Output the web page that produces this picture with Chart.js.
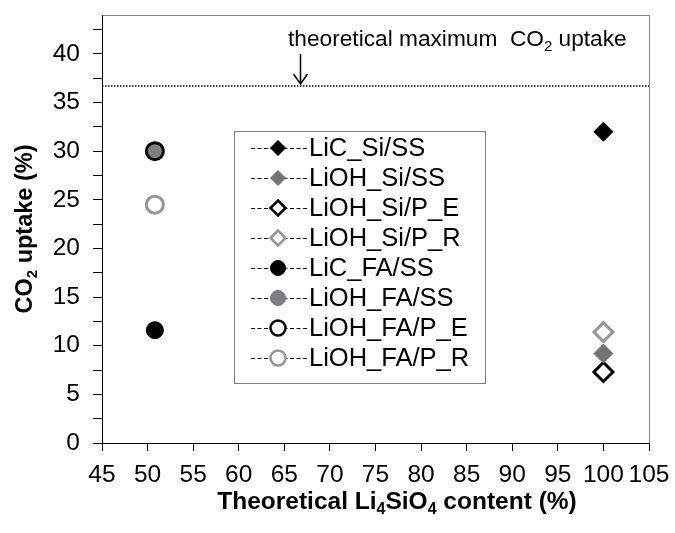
<!DOCTYPE html>
<html>
<head>
<meta charset="utf-8">
<script src="https://cdn.jsdelivr.net/npm/chart.js@4"></script>
<style>
  html, body { margin: 0; padding: 0; background: #fff; }
  canvas { display: block; }
</style>
</head>
<body>
<canvas id="uptakeChart" width="675" height="533"></canvas>
<script>
// series, one point each (Li4SiO4 content %, CO2 uptake %)
const seriesNames = ['LiC_Si/SS', 'LiOH_Si/SS', 'LiOH_Si/P_E', 'LiOH_Si/P_R',
                     'LiC_FA/SS', 'LiOH_FA/SS', 'LiOH_FA/P_E', 'LiOH_FA/P_R'];
const seriesContent = [100, 100, 100, 100, 50.8, 50.8, 50.8, 50.8];
const seriesUptake = [32.0, 9.2, 7.3, 11.4, 11.6, 30.0, 30.0, 24.5];

// theoretical maximum line and where the arrow points
const maxUptake = 36.7;
const arrowContent = 66.7;

// axes
const xMin = 45, xMax = 105, xStep = 5;
const yMin = 0, yMax = 44, yStep = 2.5, yLabelStep = 5;

// marker looks: shape, fill, stroke, line width
const markerStyles = [
    { shape: 'rectRot', fill: '#000000', stroke: '#000000', width: 1 },
    { shape: 'rectRot', fill: '#737373', stroke: '#737373', width: 1 },
    { shape: 'rectRot', fill: '#ffffff', stroke: '#000000', width: 3 },
    { shape: 'rectRot', fill: '#ffffff', stroke: '#969696', width: 3 },
    { shape: 'circle', fill: '#000000', stroke: '#000000', width: 1 },
    { shape: 'circle', fill: '#7f7f7f', stroke: '#7a6f8a', width: 1 },
    { shape: 'circle', fill: 'rgba(0,0,0,0)', stroke: '#000000', width: 3 },
    { shape: 'circle', fill: '#ffffff', stroke: '#969696', width: 3 }
];

const FONT = '"Liberation Sans", Arial, sans-serif';

// draws text made of [string, isSubscript] pieces
function drawRich(ctx, parts, x, y, size, bold, align) {
    const w = bold ? 'bold ' : '';
    const subSize = Math.round(size * 0.65);
    let total = 0;
    parts.forEach(([t, sub]) => {
        ctx.font = w + (sub ? subSize : size) + 'px ' + FONT;
        total += ctx.measureText(t).width;
    });
    let cx = align === 'center' ? x - total / 2 : x;
    ctx.textAlign = 'left';
    ctx.textBaseline = 'alphabetic';
    parts.forEach(([t, sub]) => {
        ctx.font = w + (sub ? subSize : size) + 'px ' + FONT;
        ctx.fillText(t, cx, sub ? y + size * 0.2 : y);
        cx += ctx.measureText(t).width;
    });
}

const frameAndText = {
    id: 'frameAndText',
    beforeDraw(chart) {
        const { ctx, chartArea: a } = chart;
        ctx.save();
        ctx.strokeStyle = '#868686';
        ctx.lineWidth = 1;
        ctx.strokeRect(a.left + 0.5, a.top + 0.5, a.right - a.left, a.bottom - a.top);
        ctx.restore();
    },
    afterDraw(chart) {
        const { ctx, scales } = chart;
        ctx.save();
        ctx.fillStyle = '#000';

        // axis titles
        drawRich(ctx, [['Theoretical Li', false], ['4', true], ['SiO', false], ['4', true], [' content (%)', false]],
                 397, 509, 24.5, true, 'center');
        ctx.save();
        ctx.translate(32, 229);
        ctx.rotate(-Math.PI / 2);
        drawRich(ctx, [['CO', false], ['2', true], [' uptake (%)', false]], 0, 0, 23.5, true, 'center');
        ctx.restore();

        // annotation with arrow
        drawRich(ctx, [['theoretical maximum  CO', false], ['2', true], [' uptake', false]], 288, 46, 22.7, false, 'left');
        const ax = Math.round(scales.x.getPixelForValue(arrowContent)) + 0.5;
        const ay = scales.y.getPixelForValue(maxUptake) - 2;
        ctx.strokeStyle = '#000';
        ctx.lineWidth = 1.5;
        ctx.beginPath();
        ctx.moveTo(ax, 54);
        ctx.lineTo(ax, ay);
        ctx.moveTo(ax - 7, ay - 10);
        ctx.lineTo(ax, ay);
        ctx.lineTo(ax + 7, ay - 10);
        ctx.stroke();

        // legend box
        const bx = 234, by = 131, bw = 251, bh = 252;
        ctx.fillStyle = '#fff';
        ctx.fillRect(bx, by, bw, bh);
        ctx.strokeStyle = '#808080';
        ctx.lineWidth = 1;
        ctx.strokeRect(bx + 0.5, by + 0.5, bw, bh);
        seriesNames.forEach((name, i) => {
            const ds = chart.data.datasets[i];
            const ry = 148 + i * 30;
            ctx.save();
            ctx.strokeStyle = '#000';
            ctx.lineWidth = 1.2;
            ctx.setLineDash([4, 2.5]);
            ctx.beginPath();
            ctx.moveTo(251, ry + 0.5);
            ctx.lineTo(307, ry + 0.5);
            ctx.stroke();
            ctx.restore();
            ctx.save();
            ctx.fillStyle = '#fff';
            ctx.beginPath();
            ctx.arc(278, ry, 6, 0, Math.PI * 2);
            ctx.fill();
            ctx.fillStyle = ds.pointBackgroundColor === 'rgba(0,0,0,0)' ? '#fff' : ds.pointBackgroundColor;
            ctx.strokeStyle = ds.pointBorderColor;
            ctx.lineWidth = ds.pointBorderWidth === 3 ? 2.5 : 1;
            Chart.helpers.drawPoint(ctx, { pointStyle: ds.pointStyle, radius: 7.5, borderWidth: ctx.lineWidth }, 278, ry);
            ctx.restore();
            ctx.fillStyle = '#000';
            ctx.font = '25.5px ' + FONT;
            ctx.textAlign = 'left';
            ctx.textBaseline = 'middle';
            ctx.fillText(name, 309, ry + 1);
        });
        ctx.restore();
    }
};

const datasets = seriesNames.map((name, i) => ({
    label: name,
    data: [{ x: seriesContent[i], y: seriesUptake[i] }],
    pointStyle: markerStyles[i].shape,
    pointRadius: markerStyles[i].shape === 'circle' ? 8.5 : 9.5,
    pointBackgroundColor: markerStyles[i].fill,
    pointBorderColor: markerStyles[i].stroke,
    pointBorderWidth: markerStyles[i].width,
    showLine: false,
    order: name === 'LiOH_FA/P_E' ? 0 : 1
}));

datasets.push({
    label: 'theoretical maximum',
    type: 'line',
    data: [{ x: xMin, y: maxUptake }, { x: xMax, y: maxUptake }],
    borderColor: '#000',
    borderWidth: 1.5,
    borderDash: [1.5, 1.5],
    pointRadius: 0,
    order: 2
});

new Chart(document.getElementById('uptakeChart').getContext('2d'), {
    type: 'scatter',
    data: { datasets: datasets },
    options: {
        responsive: false,
        devicePixelRatio: 1,
        animation: false,
        layout: { padding: { left: 0, right: 26, top: 15, bottom: 0 } },
        plugins: {
            legend: { display: false },
            tooltip: { enabled: false }
        },
        scales: {
            x: {
                type: 'linear',
                min: xMin,
                max: xMax,
                afterFit: (s) => { s.height = 90; s.paddingLeft = 0; s.paddingRight = 0; },
                ticks: {
                    stepSize: xStep,
                    color: '#000',
                    font: { family: FONT, size: 24.5 },
                    padding: 10,
                    maxRotation: 0,
                    autoSkip: false
                },
                grid: { drawOnChartArea: false, tickLength: 8, color: '#000' },
                border: { color: '#000', width: 1 }
            },
            y: {
                min: yMin,
                max: yMax,
                afterFit: (s) => { s.width = 102; s.paddingTop = 0; s.paddingBottom = 0; },
                ticks: {
                    stepSize: yStep,
                    includeBounds: false,
                    color: '#000',
                    font: { family: FONT, size: 24.5 },
                    padding: 13,
                    autoSkip: false,
                    callback: (v) => (v % yLabelStep === 0 ? v : '')
                },
                grid: { drawOnChartArea: false, tickLength: 9, color: '#000' },
                border: { color: '#000', width: 1 }
            }
        }
    },
    plugins: [frameAndText]
});
</script>
</body>
</html>
